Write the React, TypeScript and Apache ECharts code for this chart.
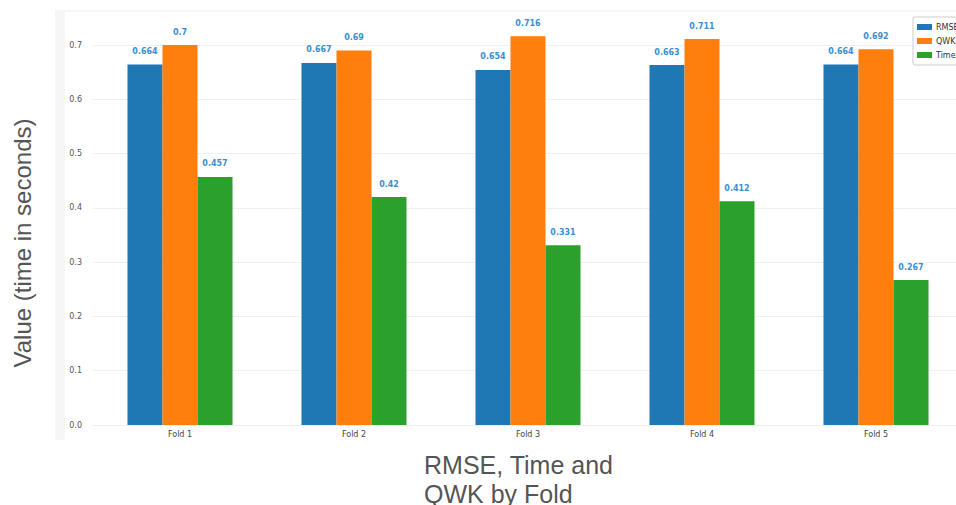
import React, { useEffect, useRef } from "react";
import * as echarts from "echarts";

const categories = ["Fold 1", "Fold 2", "Fold 3", "Fold 4", "Fold 5"];
const rmse = [0.664, 0.667, 0.654, 0.663, 0.664];
const qwk = [0.7, 0.69, 0.716, 0.711, 0.692];
const time = [0.457, 0.42, 0.331, 0.412, 0.267];
const seriesNames = ["RMSE", "QWK", "Time"];
const colors = ["#1f77b4", "#ff7f0e", "#2ca02c"];

export default function App() {
  const ref = useRef<HTMLDivElement>(null);
  useEffect(() => {
    if (!ref.current) return;
    const chart = echarts.init(ref.current, null, { renderer: "svg" });
    const label = {
      show: true,
      position: "top",
      distance: 9,
      color: "#3a8fd0",
      fontSize: 8,
      fontWeight: "bold",
      fontFamily: "DejaVu Sans",
    };
    const values = [rmse, qwk, time];
    chart.setOption({
      animation: false,
      backgroundColor: "#ffffff",
      color: colors,
      grid: { left: 93, width: 870, top: 45, bottom: 80, containLabel: false },
      legend: {
        orient: "vertical",
        left: 913,
        top: 17,
        itemWidth: 15,
        itemHeight: 6,
        itemGap: 6,
        padding: [6, 6, 6, 4],
        borderColor: "#cccccc",
        borderWidth: 1,
        borderRadius: 2,
        backgroundColor: "#ffffff",
        icon: "rect",
        textStyle: { fontSize: 8, color: "#333", fontFamily: "DejaVu Sans", padding: [0, 0, 0, -1] },
        data: seriesNames,
      },
      xAxis: {
        type: "category",
        data: categories,
        axisLine: { show: true, lineStyle: { color: "#eeeeee" } },
        axisTick: { show: false },
        axisLabel: { fontSize: 8, color: "#444", fontFamily: "DejaVu Sans", margin: 5 },
      },
      yAxis: {
        type: "value",
        min: 0,
        max: 0.7,
        interval: 0.1,
        axisLine: { show: false },
        axisTick: { show: false },
        axisLabel: {
          fontSize: 8,
          color: "#555",
          fontFamily: "DejaVu Sans",
          margin: 11,
          formatter: (v: number) => v.toFixed(1),
        },
        splitLine: { lineStyle: { color: "#f0f0f0", width: 1 } },
      },
      graphic: [
        {
          type: "rect",
          z: -10,
          shape: { x: 55, y: 10, width: 10, height: 430 },
          style: { fill: "#f6f6f6" },
          silent: true,
        },
        {
          type: "rect",
          z: -10,
          shape: { x: 55, y: 10, width: 920, height: 2 },
          style: { fill: "#f6f6f6" },
          silent: true,
        },
        {
          type: "text",
          x: 22,
          y: 243,
          rotation: Math.PI / 2,
          style: {
            text: "Value (time in seconds)",
            fontSize: 24,
            fontFamily: "Liberation Sans",
            fill: "#555555",
            align: "center",
            verticalAlign: "middle",
          },
        },
        {
          type: "text",
          x: 424,
          y: 450,
          style: {
            text: "RMSE, Time and\nQWK by Fold",
            fontSize: 25,
            lineHeight: 29,
            fontFamily: "Liberation Sans",
            fill: "#555555",
            align: "left",
            verticalAlign: "top",
          },
        },
      ],
      series: seriesNames.map((name, i) => ({
        name,
        type: "bar",
        data: values[i],
        barWidth: 35,
        barGap: "0%",
        clip: false,
        itemStyle: { color: colors[i] },
        label,
      })),
    });
    return () => chart.dispose();
  }, []);
  return (
    <div style={{ width: 956, height: 505, position: "absolute", left: 0, top: 0, overflow: "hidden" }}>
      <div ref={ref} style={{ width: 975, height: 505 }} />
    </div>
  );
}
